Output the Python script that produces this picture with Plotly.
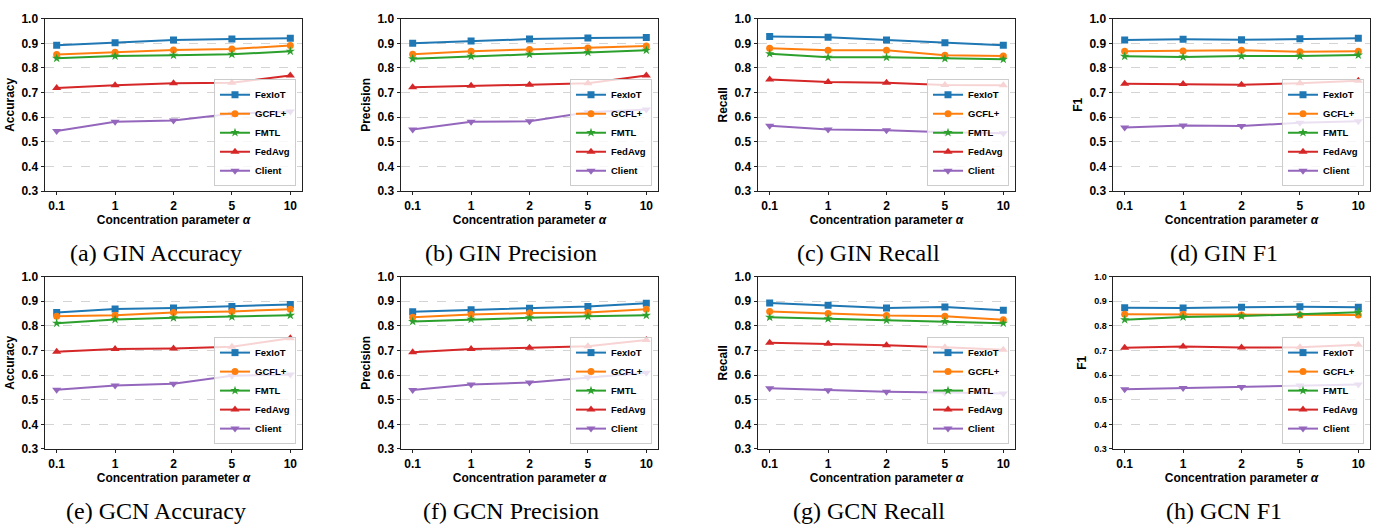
import plotly.graph_objects as go

# ---------------- data ----------------
alpha_labels = ["0.1", "1", "2", "5", "10"]
methods = ["FexIoT", "GCFL+", "FMTL", "FedAvg", "Client"]

gin_accuracy = {
    "FexIoT": [0.892, 0.902, 0.913, 0.917, 0.921],
    "GCFL+":  [0.854, 0.864, 0.873, 0.877, 0.891],
    "FMTL":   [0.839, 0.848, 0.851, 0.855, 0.868],
    "FedAvg": [0.718, 0.730, 0.738, 0.740, 0.769],
    "Client": [0.544, 0.581, 0.586, 0.614, 0.623],
}
gin_precision = {
    "FexIoT": [0.900, 0.909, 0.917, 0.922, 0.924],
    "GCFL+":  [0.856, 0.868, 0.875, 0.881, 0.889],
    "FMTL":   [0.837, 0.847, 0.855, 0.863, 0.872],
    "FedAvg": [0.721, 0.728, 0.732, 0.738, 0.769],
    "Client": [0.550, 0.581, 0.583, 0.620, 0.631],
}
gin_recall = {
    "FexIoT": [0.928, 0.925, 0.913, 0.902, 0.892],
    "GCFL+":  [0.880, 0.872, 0.872, 0.851, 0.848],
    "FMTL":   [0.858, 0.843, 0.843, 0.838, 0.835],
    "FedAvg": [0.753, 0.743, 0.740, 0.731, 0.730],
    "Client": [0.565, 0.550, 0.547, 0.539, 0.535],
}
gin_f1 = {
    "FexIoT": [0.913, 0.916, 0.914, 0.918, 0.921],
    "GCFL+":  [0.868, 0.869, 0.872, 0.866, 0.868],
    "FMTL":   [0.847, 0.844, 0.848, 0.848, 0.852],
    "FedAvg": [0.736, 0.735, 0.732, 0.738, 0.748],
    "Client": [0.558, 0.566, 0.564, 0.577, 0.583],
}
gcn_accuracy = {
    "FexIoT": [0.854, 0.869, 0.873, 0.879, 0.887],
    "GCFL+":  [0.839, 0.843, 0.854, 0.859, 0.868],
    "FMTL":   [0.811, 0.826, 0.833, 0.837, 0.843],
    "FedAvg": [0.695, 0.706, 0.708, 0.715, 0.750],
    "Client": [0.541, 0.558, 0.565, 0.597, 0.603],
}
gcn_precision = {
    "FexIoT": [0.858, 0.866, 0.872, 0.879, 0.892],
    "GCFL+":  [0.835, 0.846, 0.852, 0.854, 0.868],
    "FMTL":   [0.818, 0.827, 0.833, 0.839, 0.843],
    "FedAvg": [0.693, 0.706, 0.711, 0.717, 0.743],
    "Client": [0.540, 0.562, 0.570, 0.591, 0.610],
}
gcn_recall = {
    "FexIoT": [0.893, 0.884, 0.873, 0.877, 0.864],
    "GCFL+":  [0.859, 0.850, 0.842, 0.839, 0.825],
    "FMTL":   [0.835, 0.829, 0.823, 0.818, 0.811],
    "FedAvg": [0.732, 0.727, 0.721, 0.713, 0.703],
    "Client": [0.547, 0.539, 0.533, 0.529, 0.525],
}
gcn_f1 = {
    "FexIoT": [0.874, 0.873, 0.876, 0.878, 0.876],
    "GCFL+":  [0.847, 0.847, 0.844, 0.844, 0.844],
    "FMTL":   [0.825, 0.836, 0.840, 0.846, 0.855],
    "FedAvg": [0.711, 0.716, 0.712, 0.713, 0.723],
    "Client": [0.543, 0.548, 0.552, 0.558, 0.562],
}

panels = [
    (gin_accuracy, "Accuracy", "(a) GIN Accuracy"),
    (gin_precision, "Precision", "(b) GIN Precision"),
    (gin_recall, "Recall", "(c) GIN Recall"),
    (gin_f1, "F1", "(d) GIN F1"),
    (gcn_accuracy, "Accuracy", "(e) GCN Accuracy"),
    (gcn_precision, "Precision", "(f) GCN Precision"),
    (gcn_recall, "Recall", "(g) GCN Recall"),
    (gcn_f1, "F1", "(h) GCN F1"),
]

# ---------------- style ----------------
colors = ["#1f77b4", "#ff7f0e", "#2ca02c", "#d62728", "#9467bd"]
symbols = ["square", "circle", "star", "triangle-up", "triangle-down"]
msizes = [7, 7, 7, 8, 8]

W, H = 1379, 529
x_px = [(45, 302), (401, 658), (758, 1015), (1113, 1370)]
y_px = [(12, 189), (277, 454)]
caption_y = [253, 518]

FONT = "Liberation Sans"
fig = go.Figure()
layout = dict(
    width=W, height=H,
    margin=dict(l=0, r=0, t=0, b=0),
    paper_bgcolor="white", plot_bgcolor="white",
    showlegend=True,
    font=dict(family=FONT, color="black"),
)
annotations = []

for i, (data, ylabel, caption) in enumerate(panels):
    k = i + 1
    row, col = divmod(i, 4)
    x0, x1 = x_px[col]
    y0, y1 = y_px[row]
    xa = "x" if k == 1 else f"x{k}"
    ya = "y" if k == 1 else f"y{k}"
    lg = "legend" if k == 1 else f"legend{k}"

    for j, m in enumerate(methods):
        fig.add_trace(go.Scatter(
            x=alpha_labels, y=data[m], name=m,
            mode="lines+markers",
            line=dict(color=colors[j], width=2),
            marker=dict(symbol=symbols[j], size=msizes[j], color=colors[j]),
            xaxis=xa, yaxis=ya, legend=lg,
        ))

    layout["xaxis" if k == 1 else f"xaxis{k}"] = dict(
        domain=[x0 / W, x1 / W], anchor=ya,
        type="category", range=[-0.2, 4.2],
        showline=True, mirror=True, linecolor="#222222", linewidth=1,
        ticks="outside", ticklen=3.5, tickwidth=1, tickcolor="#222222",
        showgrid=False, zeroline=False,
        tickfont=dict(family=FONT, size=12, color="black", weight="bold"),
        title=dict(text="Concentration parameter <i>α</i>",
                   font=dict(family=FONT, size=12, color="black", weight="bold"),
                   standoff=3),
    )
    layout["yaxis" if k == 1 else f"yaxis{k}"] = dict(
        domain=[1 - y1 / H, 1 - y0 / H], anchor=xa,
        range=[0.3, 1.0], dtick=0.1, tick0=0.3, tickformat=".1f",
        showline=True, mirror=True, linecolor="#222222", linewidth=1,
        ticks="outside", ticklen=3.5, tickwidth=1, tickcolor="#222222",
        showgrid=True, gridcolor="#d4d4d4", griddash="dash", gridwidth=1,
        zeroline=False,
        tickfont=dict(family=FONT, size=(9 if k == 8 else 12), color="black", weight="bold"),
        title=dict(text=ylabel,
                   font=dict(family=FONT, size=12, color="black", weight="bold"),
                   standoff=4),
    )
    layout[lg] = dict(
        x=(x1 - 6) / W, y=1 - (y1 - 5) / H,
        xanchor="right", yanchor="bottom",
        bgcolor="rgba(255,255,255,0.8)", bordercolor="#cccccc", borderwidth=1,
        font=dict(family=FONT, size=9.5, color="black", weight="bold"),
        itemwidth=30, tracegroupgap=0,
    )
    annotations.append(dict(
        text=caption, xref="paper", yref="paper",
        x=((x0 + x1) / 2 - 18) / W, y=1 - caption_y[row] / H,
        xanchor="center", yanchor="middle", showarrow=False,
        font=dict(family="Liberation Serif", size=24, color="black"),
    ))

layout["annotations"] = annotations
fig.update_layout(**layout)
fig.write_html(
    "out.html",
    config={"displayModeBar": False},
    post_script="document.body.style.margin='0';document.body.style.overflow='hidden';",
)
